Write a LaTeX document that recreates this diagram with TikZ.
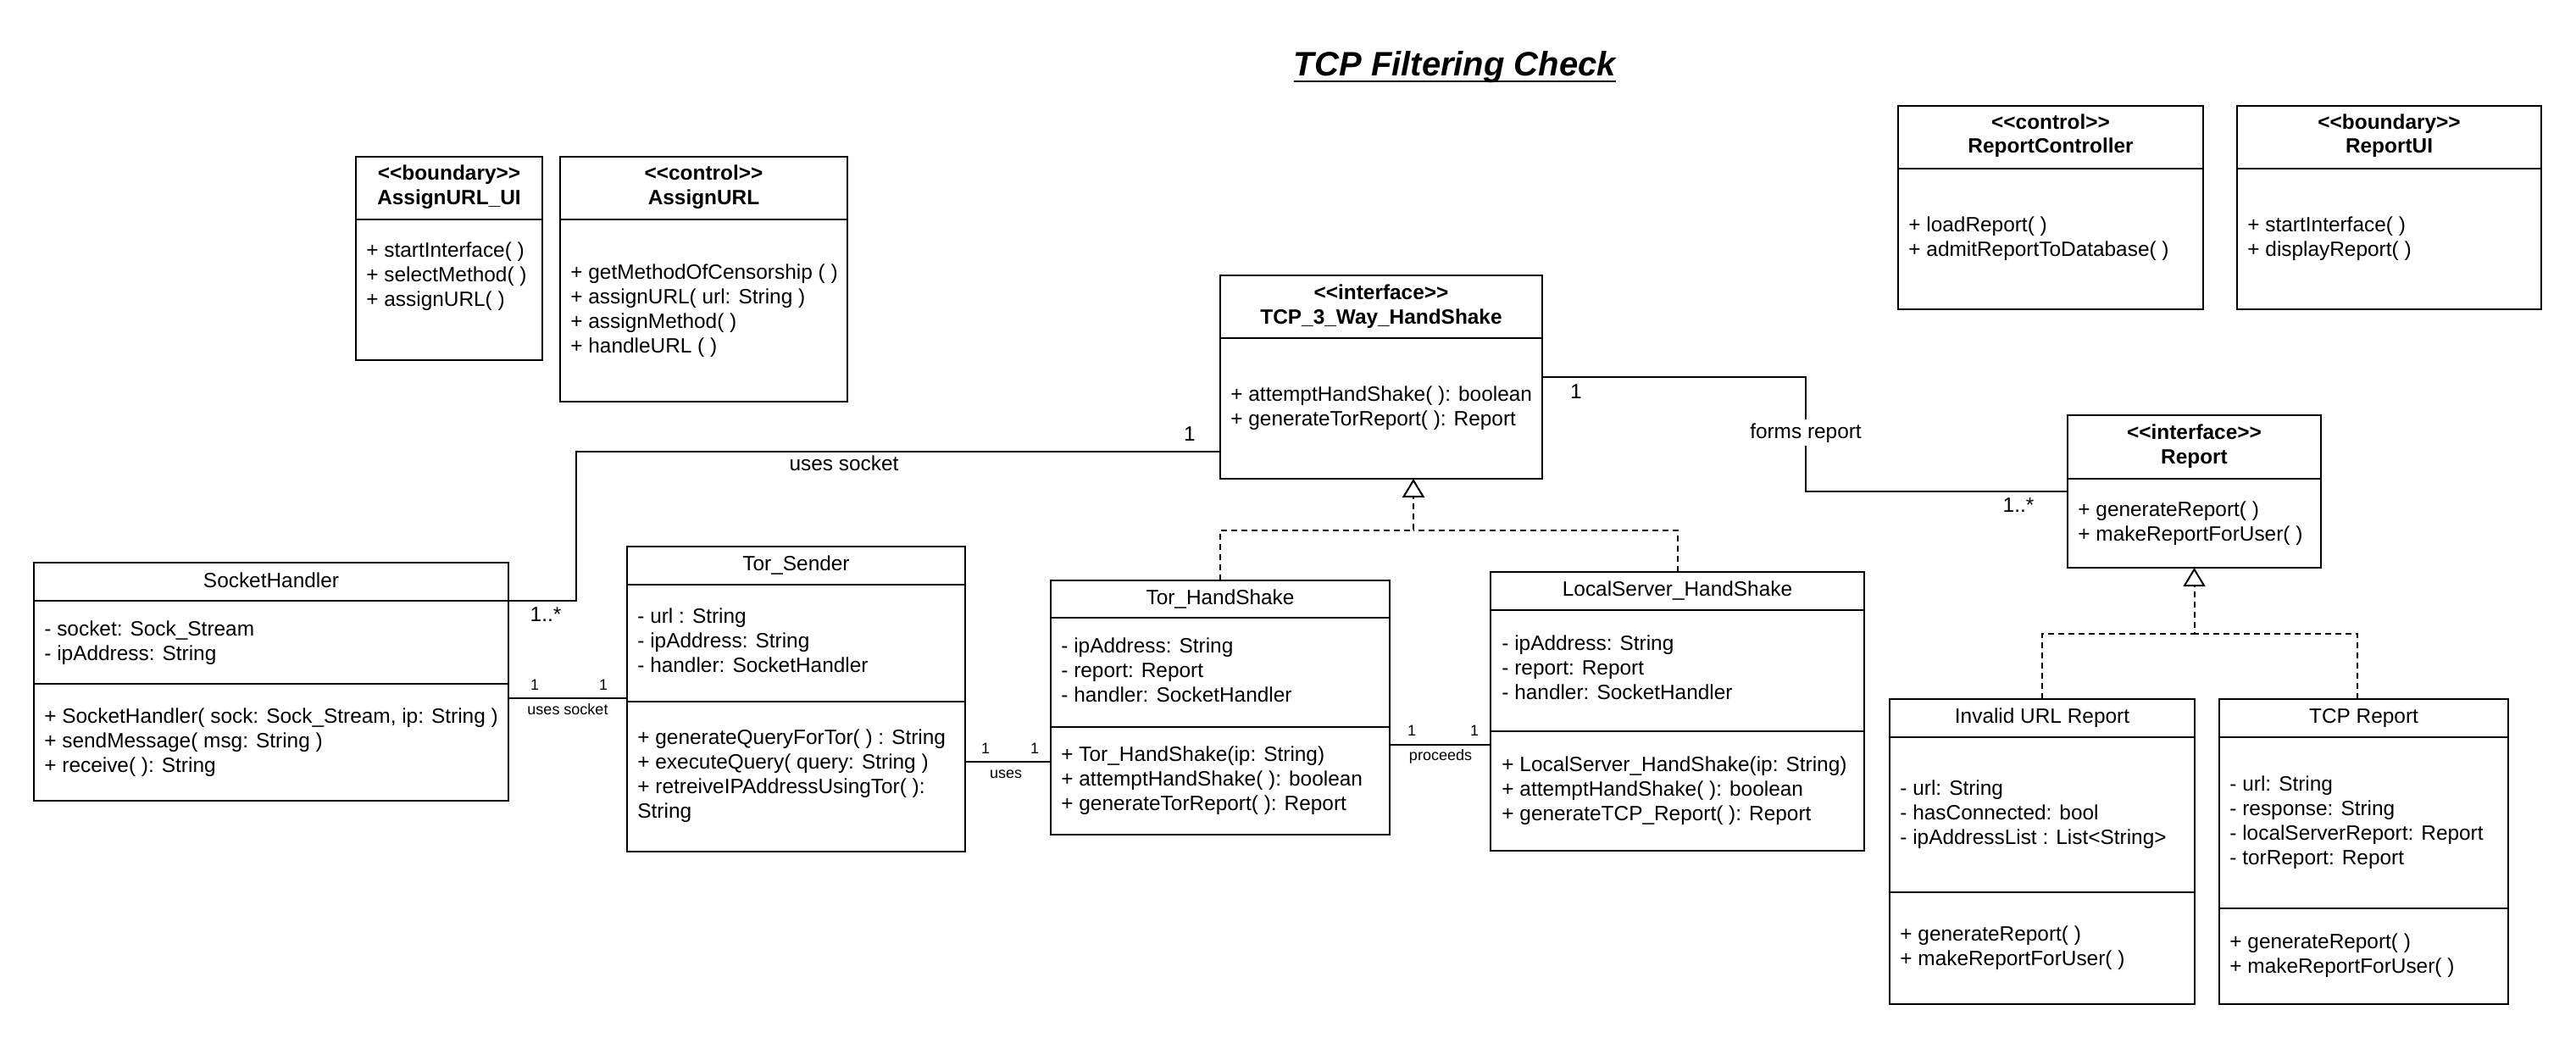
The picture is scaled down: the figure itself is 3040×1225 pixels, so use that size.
\documentclass[tikz,border=0pt]{standalone}
\usepackage{fontspec}
\usetikzlibrary{arrows.meta,fit}
\newfontfamily\arial{Liberation Sans}
\newcommand\fnorm{\arial\fontsize{12.2}{14.6}\selectfont}
\newcommand\fbold{\arial\bfseries\fontsize{12.2}{14.6}\selectfont}
\newcommand\fsmall{\arial\fontsize{9}{11}\selectfont}
\newcommand\ftitle{\arial\bfseries\itshape\fontsize{20}{24}\selectfont}
\tikzset{
 classbox/.style={draw, line width=1pt, inner sep=0pt, outer sep=0pt},
 divline/.style={line width=1pt},
 txt/.style={anchor=base west, inner sep=0pt, font=\fnorm},
 hdr/.style={anchor=base, inner sep=0pt, font=\fbold},
 ttl/.style={anchor=base, inner sep=0pt, font=\fnorm},
 lbl/.style={anchor=base, inner sep=0pt, font=\fnorm},
 slbl/.style={anchor=base, inner sep=0pt, font=\fsmall},
 conn/.style={line width=1pt},
 dashline/.style={line width=1pt, dash pattern=on 3.5pt off 2.5pt},
 real/.style={dashline, -{Triangle[open, length=11pt, width=13pt]}},
}
\newcommand\umlbox[5]{\node[classbox, fit={(#2,#3) (#4,#5)}] (#1) {};}
\newcommand\udiv[2]{\draw[divline] (#1.west |- 0,#2) -- (#1.east |- 0,#2);}
\newcommand\ulines[4]{\foreach \t [count=\i] in {#4}{\pgfmathsetmacro\yy{#3+8+29*(\i-1)}\node[txt] (#1\i) at (#2,\yy) {\t};}}
\begin{document}
\begin{tikzpicture}[x=0.5pt, y=-0.5pt]
\useasboundingbox (0,0) rectangle (3040,1225);

% title
\node[anchor=base, inner sep=0pt, font=\ftitle] (title) at (1717,90) {TCP Filtering Check};
\draw[line width=1.3pt] ([yshift=-3pt]title.base west) -- ([yshift=-3pt]title.base east);

% AssignURL_UI
\umlbox{aui}{420}{185}{640}{425}
\udiv{aui}{259}
\node[hdr] (aui-s) at (aui.north |- 0,213) {<<boundary>>};
\node[hdr] (aui-n) at (aui.north |- 0,242) {AssignURL\_UI};
\ulines{aui-m}{432}{295}{{+ startInterface( )},{+ selectMethod( )},{+ assignURL( )}}

% AssignURL
\umlbox{aurl}{661}{185}{1000}{474}
\udiv{aurl}{259}
\node[hdr] (aurl-s) at (aurl.north |- 0,213) {<<control>>};
\node[hdr] (aurl-n) at (aurl.north |- 0,242) {AssignURL};
\ulines{aurl-m}{673}{321}{{+ getMethodOfCensorship ( )},{+ assignURL( url: String )},{+ assignMethod( )},{+ handleURL ( )}}

% TCP_3_Way_HandShake
\umlbox{tcp}{1440}{325}{1820}{565}
\udiv{tcp}{399}
\node[hdr] (tcp-s) at (tcp.north |- 0,353) {<<interface>>};
\node[hdr] (tcp-n) at (tcp.north |- 0,382) {TCP\_3\_Way\_HandShake};
\ulines{tcp-m}{1452}{465}{{+ attemptHandShake( ): boolean},{+ generateTorReport( ): Report}}

% ReportController
\umlbox{rc}{2240}{125}{2600}{365}
\udiv{rc}{199}
\node[hdr] (rc-s) at (rc.north |- 0,153) {<<control>>};
\node[hdr] (rc-n) at (rc.north |- 0,181) {ReportController};
\ulines{rc-m}{2252}{265}{{+ loadReport( )},{+ admitReportToDatabase( )}}

% ReportUI
\umlbox{rui}{2640}{125}{2999}{365}
\udiv{rui}{199}
\node[hdr] (rui-s) at (rui.north |- 0,153) {<<boundary>>};
\node[hdr] (rui-n) at (rui.north |- 0,181) {ReportUI};
\ulines{rui-m}{2652}{265}{{+ startInterface( )},{+ displayReport( )}}

% Report
\umlbox{rep}{2440}{490}{2739}{670}
\udiv{rep}{565}
\node[hdr] (rep-s) at (rep.north |- 0,518) {<<interface>>};
\node[hdr] (rep-n) at (rep.north |- 0,547) {Report};
\ulines{rep-m}{2452}{601}{{+ generateReport( )},{+ makeReportForUser( )}}

% SocketHandler
\umlbox{sock}{40}{664}{600}{945}
\udiv{sock}{709}
\udiv{sock}{807}
\node[ttl] (sock-n) at (sock.north |- 0,693) {SocketHandler};
\ulines{sock-a}{52}{742}{{- socket: Sock\_Stream},{- ipAddress: String}}
\ulines{sock-m}{52}{845}{{+ SocketHandler( sock: Sock\_Stream, ip: String )},{+ sendMessage( msg: String )},{+ receive( ): String}}

% Tor_Sender
\umlbox{tsend}{740}{645}{1139}{1005}
\udiv{tsend}{690}
\udiv{tsend}{828}
\node[ttl] (tsend-n) at (tsend.north |- 0,673) {Tor\_Sender};
\ulines{tsend-a}{752}{727}{{- url : String},{- ipAddress: String},{- handler: SocketHandler}}
\ulines{tsend-m}{752}{870}{{+ generateQueryForTor( ) : String},{+ executeQuery( query: String )},{+ retreiveIPAddressUsingTor( ):},{String}}

% Tor_HandShake
\umlbox{torhs}{1240}{685}{1640}{985}
\udiv{torhs}{729}
\udiv{torhs}{858}
\node[ttl] (torhs-n) at (torhs.north |- 0,713) {Tor\_HandShake};
\ulines{torhs-a}{1252}{762}{{- ipAddress: String},{- report: Report},{- handler: SocketHandler}}
\ulines{torhs-m}{1252}{890}{{+ Tor\_HandShake(ip: String)},{+ attemptHandShake( ): boolean},{+ generateTorReport( ): Report}}

% LocalServer_HandShake
\umlbox{lshs}{1759}{675}{2200}{1004}
\udiv{lshs}{720}
\udiv{lshs}{863}
\node[ttl] (lshs-n) at (lshs.north |- 0,703) {LocalServer\_HandShake};
\ulines{lshs-a}{1772}{759}{{- ipAddress: String},{- report: Report},{- handler: SocketHandler}}
\ulines{lshs-m}{1772}{902}{{+ LocalServer\_HandShake(ip: String)},{+ attemptHandShake( ): boolean},{+ generateTCP\_Report( ): Report}}

% Invalid URL Report
\umlbox{inv}{2230}{825}{2590}{1185}
\udiv{inv}{870}
\udiv{inv}{1053}
\node[ttl] (inv-n) at (inv.north |- 0,853) {Invalid URL Report};
\ulines{inv-a}{2242}{930}{{- url: String},{- hasConnected: bool},{- ipAddressList : List<String>}}
\ulines{inv-m}{2242}{1102}{{+ generateReport( )},{+ makeReportForUser( )}}

% TCP Report
\umlbox{tcpr}{2619}{825}{2960}{1185}
\udiv{tcpr}{870}
\udiv{tcpr}{1072}
\node[ttl] (tcpr-n) at (tcpr.north |- 0,853) {TCP Report};
\ulines{tcpr-a}{2631}{925}{{- url: String},{- response: String},{- localServerReport: Report},{- torReport: Report}}
\ulines{tcpr-m}{2631}{1111}{{+ generateReport( )},{+ makeReportForUser( )}}

% associations
\draw[conn] (sock.east |- 0,709) -| (680,533) -- (tcp.west |- 0,533);
\node[lbl] (m1) at (644,733) {1..*};
\node[lbl] (m2) at (1404,520) {1};
\node[lbl] (l1) at (996,555) {uses socket};

\draw[conn] (sock.east |- 0,824) -- (tsend.west |- 0,824);
\node[slbl] (m3) at (631,814) {1};
\node[slbl] (m4) at (712,814) {1};
\node[slbl] (l2) at (670,843) {uses socket};

\draw[conn] (tsend.east |- 0,899) -- (torhs.west |- 0,899);
\node[slbl] (m5) at (1163,889) {1};
\node[slbl] (m6) at (1221,889) {1};
\node[slbl] (l3) at (1187,918) {uses};

\draw[conn] (torhs.east |- 0,879) -- (lshs.west |- 0,879);
\node[slbl] (m7) at (1666,868) {1};
\node[slbl] (m8) at (1740,868) {1};
\node[slbl] (l4) at (1700,897) {proceeds};

\draw[conn] (tcp.east |- 0,445) -| (2131,580) -- (rep.west |- 0,580);
\node[lbl] (m9) at (1860,470) {1};
\node[lbl, fill=white, inner sep=2pt] (l5) at (2131,517) {forms report};
\node[lbl] (m10) at (2382,604) {1..*};

% realizations
\draw[real] (torhs.north) |- (1668,626) -- (tcp.south -| 1668,0);
\draw[dashline] (lshs.north) |- (1668,626);
\draw[real] (inv.north) |- (rep.south |- 0,748) -- (rep.south);
\draw[dashline] (tcpr.north -| 2782,0) |- (rep.south |- 0,748);
\end{tikzpicture}
\end{document}
